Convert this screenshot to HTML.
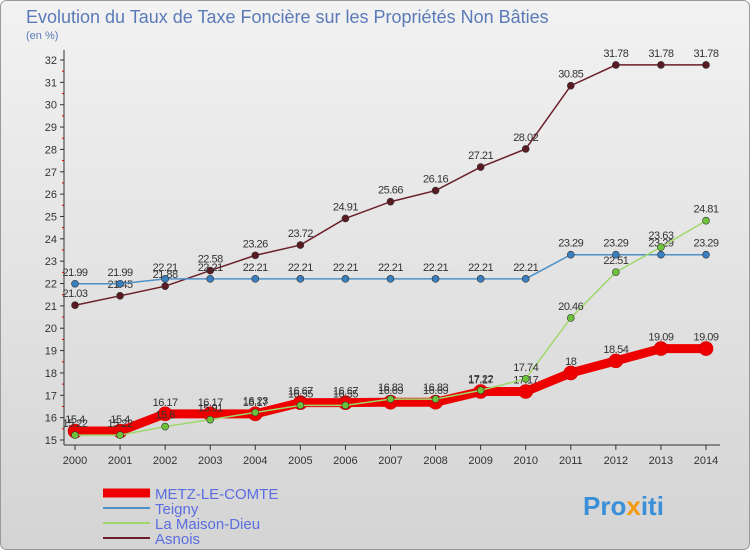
<!DOCTYPE html>
<html><head><meta charset="utf-8"><style>
body{margin:0;}
#c{width:750px;height:550px;position:relative;font-family:"Liberation Sans",sans-serif;}
</style></head><body>
<div id="c">
<svg id="s" width="750" height="550" xmlns="http://www.w3.org/2000/svg">
<defs><linearGradient id="bg" x1="0" y1="0" x2="0" y2="1"><stop offset="0" stop-color="#f2f2f2"/><stop offset="1" stop-color="#d4d4d4"/></linearGradient></defs>
<rect x="0.5" y="0.5" width="749" height="549" rx="6" fill="url(#bg)" stroke="#999"/>
<text x="26" y="23" font-size="18" fill="#5a7ab8">Evolution du Taux de Taxe Foncière sur les Propriétés Non Bâties</text>
<text x="26" y="39" font-size="11" fill="#5a7ab8">(en %)</text>
<g id="axes"></g><g id="series"></g><g id="legend"></g>
<text x="583" y="515" font-size="26" font-weight="bold" fill="#3a8fd8">Pro<tspan fill="#f39c12">x</tspan>iti</text>
</svg></div>
<script>
const years=[2000,2001,2002,2003,2004,2005,2006,2007,2008,2009,2010,2011,2012,2013,2014];
const yTicks=[15,16,17,18,19,20,21,22,23,24,25,26,27,28,29,30,31,32];
const metz=[15.4,15.4,16.17,16.17,16.17,16.67,16.67,16.69,16.69,17.17,17.17,18,18.54,19.09,19.09];
const teigny=[21.99,21.99,22.21,22.21,22.21,22.21,22.21,22.21,22.21,22.21,22.21,23.29,23.29,23.29,23.29];
const maison=[15.22,15.22,15.6,15.91,16.23,16.55,16.55,16.83,16.83,17.22,17.74,20.46,22.51,23.63,24.81];
const asnois=[21.03,21.45,21.88,22.58,23.26,23.72,24.91,25.66,26.16,27.21,28.02,30.85,31.78,31.78,31.78];
const NS="http://www.w3.org/2000/svg";
const X=i=>75+i*(631/14), Y=v=>440-(v-15)*(380/17);
function mk(t,a,p){const e=document.createElementNS(NS,t);for(const k in a)e.setAttribute(k,a[k]);p.appendChild(e);return e;}
const ax=document.getElementById('axes');
let l=mk('line',{x1:64,y1:50,x2:64,y2:445,stroke:'#333'},ax);
l=mk('line',{x1:64,y1:445,x2:720,y2:445,stroke:'#333'},ax);
yTicks.forEach(v=>{mk('line',{x1:60,y1:Y(v),x2:64,y2:Y(v),stroke:'#333'},ax);
 const t=mk('text',{x:57,y:Y(v)+4,'font-size':11,'text-anchor':'end',fill:'#333'},ax);t.textContent=v;
 
 if(v<32)mk('line',{x1:62,y1:Y(v+0.5),x2:64,y2:Y(v+0.5),stroke:'#c00'},ax);});
years.forEach((y,i)=>{mk('line',{x1:X(i),y1:445,x2:X(i),y2:450,stroke:'#333'},ax);
 const t=mk('text',{x:X(i),y:464,'font-size':11,'text-anchor':'middle',fill:'#333'},ax);t.textContent=y;
 });
const sg=document.getElementById('series');
const defs=[['asnois',asnois,'#6b1f2a','#5a1a22',1.5,3.5],['teigny',teigny,'#4e91c6','#3a7fbf',1.5,3.5],['maison-dieu',maison,'#9fd86a','#6cc23a',1.5,3.5],['metz-le-comte',metz,'#ee0000','#ee0000',9,7]];
[defs[3],defs[0],defs[1],defs[2]].forEach(([n,d,c,mc,w,r])=>{
 const g=mk('g',{},sg);
 const p=mk('polyline',{points:d.map((v,i)=>X(i)+','+Y(v)).join(' '),fill:'none',stroke:c,'stroke-width':w},g);
 
 d.forEach((v,i)=>{const m=mk('circle',{cx:X(i),cy:Y(v),r:r,fill:mc,stroke:n=='metz-le-comte'?'#c00':'#333','stroke-width':0.6},g);
  
  const t=mk('text',{x:X(i),y:Y(v)-8,'font-size':11,'text-anchor':'middle',fill:'#333','letter-spacing':'-0.5'},g);t.textContent=v;
  });
});
const lg=document.getElementById('legend');
[['METZ-LE-COMTE','#ee0000',9],['Teigny','#4e91c6',2],['La Maison-Dieu','#9fd86a',2],['Asnois','#6b1f2a',2]].forEach(([n,c,w],i)=>{
 const y=493+i*15;const g=mk('g',{},lg);
 mk('line',{x1:103,y1:y,x2:150,y2:y,stroke:c,'stroke-width':w},g);
 const t=mk('text',{x:155,y:y+6,'font-size':15,fill:'#5a6ee0'},g);t.textContent=n;});
</script></body></html>
